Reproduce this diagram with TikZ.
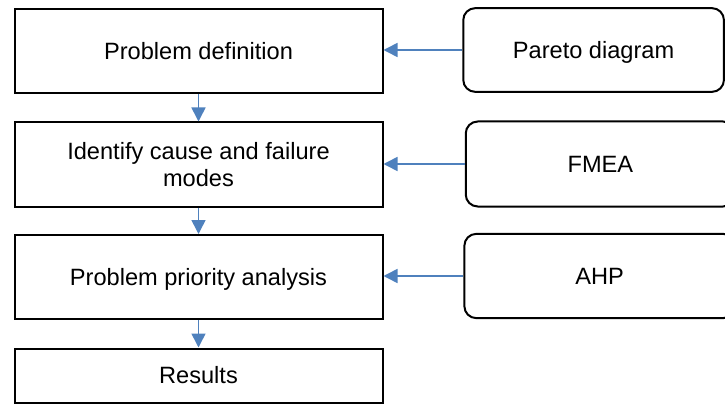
\documentclass[tikz,border=0pt]{standalone}
\usepackage{fontspec}
\setmainfont{Liberation Sans}
\usetikzlibrary{arrows.meta}
\definecolor{arrblue}{HTML}{4F81BD}
\begin{document}
\begin{tikzpicture}[x=1pt,y=-1pt,
  txt/.style={font=\fontsize{23.6}{27.4}\selectfont, text height=16.9pt, text depth=0pt},
  stepbox/.style={txt, draw=black, line width=2pt, minimum width=368pt, inner sep=0pt, align=center},
  toolbox/.style={txt, draw=black, line width=2pt, rounded corners=12pt, inner sep=0pt, align=center},
  arr/.style={draw=arrblue, line width=1.6pt, -{Triangle[length=14pt,width=14pt]}}]
\useasboundingbox (0,0) rectangle (725,406);
\clip (0,0) rectangle (725,406);
% left process boxes
\node[stepbox, minimum height=84pt] (b1) at (198.5,51) {Problem definition};
\node[stepbox, minimum height=84pt, text height=44.3pt] (b2) at (198.5,164.5) {Identify cause and failure\\modes};
\node[stepbox, minimum height=84pt] (b3) at (198.5,277) {Problem priority analysis};
\node[stepbox, minimum height=54pt] (b4) at (198.5,375.5) {Results};
% right tool boxes
\node[toolbox, minimum width=260.7pt, minimum height=83.7pt] (r1) at (593.6,50) {Pareto diagram};
\node[toolbox, minimum width=269.3pt, minimum height=85pt] (r2) at (600.4,164) {FMEA};
\node[toolbox, minimum width=270.7pt, minimum height=84.3pt] (r3) at (599.7,276) {AHP};
% connectors
\draw[arr] (b1.south) -- (b2.north);
\draw[arr] (b2.south) -- (b3.north);
\draw[arr] (b3.south) -- (b4.north);
\draw[arr] (r1.west) -- (r1.west -| b1.east);
\draw[arr] (r2.west) -- (r2.west -| b2.east);
\draw[arr] (r3.west) -- (r3.west -| b3.east);
\end{tikzpicture}
\end{document}
